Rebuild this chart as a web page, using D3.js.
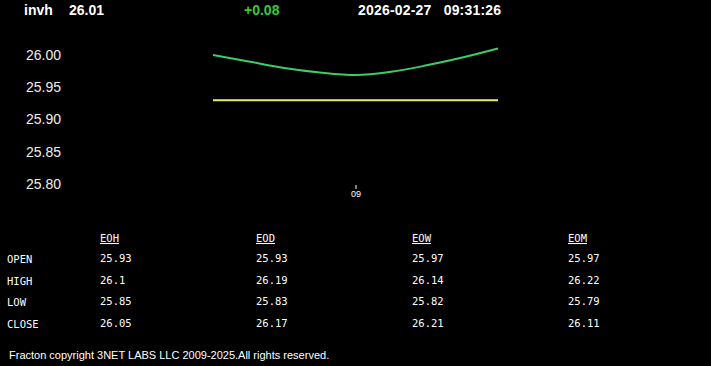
<!DOCTYPE html>
<html><head><meta charset="utf-8">
<script src="https://cdn.jsdelivr.net/npm/d3@7"></script>
<style>
html,body{margin:0;padding:0;background:#000;overflow:hidden;}
svg{display:block;}
</style></head>
<body>
<script>
const symbol = "invh";
const lastPrice = "26.01";
const change = "+0.08";
const stamp = "2026-02-27   09:31:26";
const priceSeries = [26.000, 25.990, 25.980, 25.973, 25.969, 25.974, 25.984, 25.996, 26.010];
const openSeries = [25.93, 25.93, 25.93, 25.93, 25.93, 25.93, 25.93, 25.93, 25.93];
const yTicks = [25.80, 25.85, 25.90, 25.95, 26.00];
const xTickIndex = [4];
const xTickLabels = ["09"];
const periods = ["EOH", "EOD", "EOW", "EOM"];
const rowLabels = ["OPEN", "HIGH", "LOW", "CLOSE"];
const openVals = ["25.93", "25.93", "25.97", "25.97"];
const highVals = ["26.1", "26.19", "26.14", "26.22"];
const lowVals = ["25.85", "25.83", "25.82", "25.79"];
const closeVals = ["26.05", "26.17", "26.21", "26.11"];
const footer = "Fracton copyright 3NET LABS LLC 2009-2025.All rights reserved.";

const W = 711, H = 366;
const svg = d3.select("body").append("svg").attr("width", W).attr("height", H)
  .style("background", "#000");

// header
const hdr = svg.append("g").attr("font-family", "Arial, 'Liberation Sans', sans-serif")
  .attr("font-weight", "bold").attr("font-size", 14);
hdr.append("text").attr("x", 24).attr("y", 15).attr("fill", "#fff").text(symbol);
hdr.append("text").attr("x", 69).attr("y", 15).attr("fill", "#fff").text(lastPrice);
hdr.append("text").attr("x", 244).attr("y", 15).attr("fill", "#33cc33").text(change);
hdr.append("text").attr("x", 358).attr("y", 15).attr("fill", "#fff")
  .attr("textLength", 143).style("white-space", "pre").text(stamp);

// scales
const x = d3.scaleLinear().domain([0, priceSeries.length - 1]).range([213, 498]);
const y = d3.scaleLinear().domain([25.80, 26.00]).range([184, 55]);

// y axis
const yAxis = d3.axisLeft(y).tickValues(yTicks).tickFormat(d3.format(".2f")).tickSize(0).tickPadding(0);
const yg = svg.append("g").attr("transform", "translate(61,0)").call(yAxis);
yg.select(".domain").remove();
yg.selectAll("text").attr("fill", "#eee").attr("font-size", 14)
  .attr("font-family", "Arial, 'Liberation Sans', sans-serif");

// x axis
const xAxis = d3.axisBottom(x).tickValues(xTickIndex).tickFormat((d, i) => xTickLabels[i]).tickSize(4).tickPadding(2);
const xg = svg.append("g").attr("transform", "translate(0,185)").call(xAxis);
xg.select(".domain").remove();
xg.selectAll("line").attr("stroke", "#fff");
xg.selectAll("text").attr("fill", "#fff").attr("font-size", 9)
  .attr("font-family", "Arial, 'Liberation Sans', sans-serif");

// lines
const line = d3.line().x((d, i) => x(i)).y(d => y(d)).curve(d3.curveMonotoneX);
svg.append("path").datum(openSeries).attr("d", line).attr("fill", "none")
  .attr("stroke", "#e6ee7a").attr("stroke-width", 2);
svg.append("path").datum(priceSeries).attr("d", line).attr("fill", "none")
  .attr("stroke", "#3ccc6a").attr("stroke-width", 2);

// table
const mono = "'DejaVu Sans Mono', 'Liberation Mono', monospace";
const colX = d3.scalePoint().domain(periods).range([100, 568]);
const rows = [openVals, highVals, lowVals, closeVals];
const rowY = d3.scalePoint().domain(rowLabels).range([263, 328]);
const tbl = svg.append("g").attr("font-family", mono).attr("font-size", 10.5).attr("fill", "#fff");
tbl.selectAll("text.hd").data(periods).enter().append("text").attr("class", "hd")
  .attr("x", d => colX(d)).attr("y", 242).attr("text-decoration", "underline").text(d => d);
tbl.selectAll("text.rl").data(rowLabels).enter().append("text").attr("class", "rl")
  .attr("x", 7).attr("y", d => rowY(d)).text(d => d);
rows.forEach((vals, r) => {
  tbl.selectAll("text.v" + r).data(vals).enter().append("text").attr("class", "v" + r)
    .attr("x", (d, i) => colX(periods[i])).attr("y", rowY(rowLabels[r]) - 1).text(d => d);
});

// footer
svg.append("text").attr("x", 9).attr("y", 359).attr("fill", "#fff").attr("font-size", 11)
  .attr("font-family", "Arial, 'Liberation Sans', sans-serif").text(footer);
</script>
</body></html>
